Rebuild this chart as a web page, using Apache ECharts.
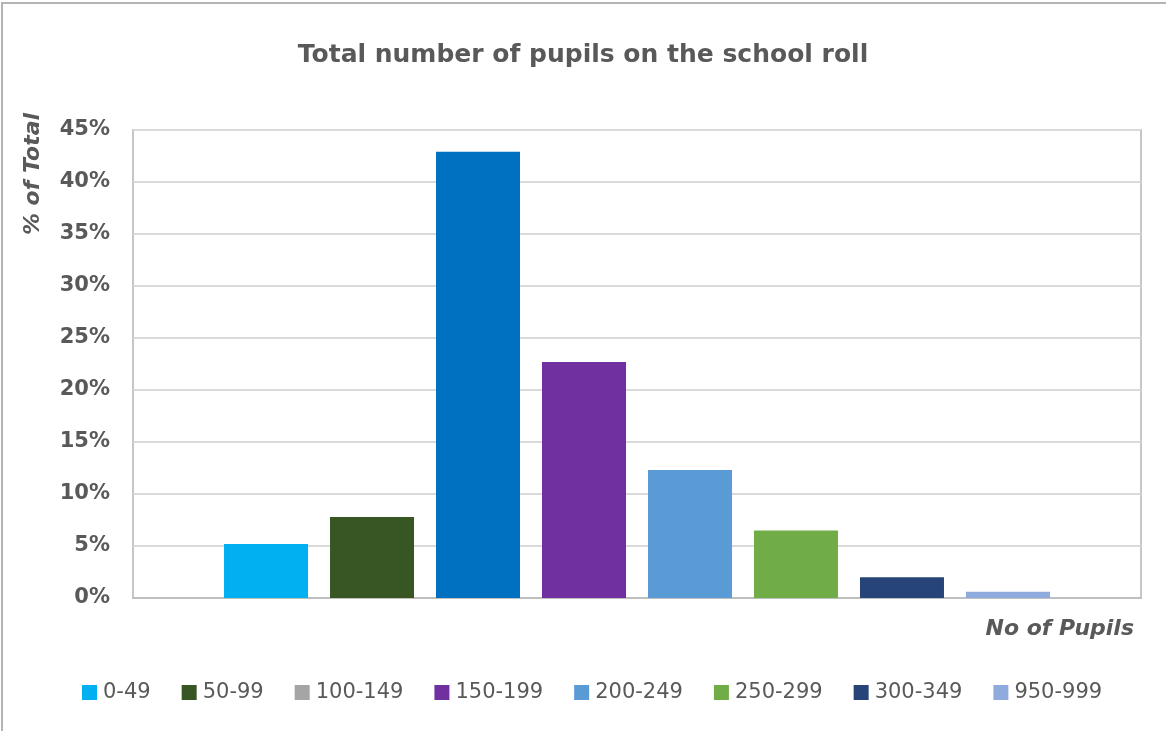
<!DOCTYPE html>
<html>
<head>
<meta charset="utf-8">
<title>Total number of pupils on the school roll</title>
<script src="https://cdn.jsdelivr.net/npm/echarts@6/dist/echarts.min.js"></script>
<style>
  html, body { margin: 0; padding: 0; background: #ffffff; }
  #chart { width: 1166px; height: 731px; }
</style>
</head>
<body>
<div id="chart"></div>
<script>
// School roll size bands and share of schools in each band (% of total)
const rollBands = ['0-49', '50-99', '100-149', '150-199', '200-249', '250-299', '300-349', '950-999'];
const shareOfTotal = [5.2, 7.8, 42.9, 22.7, 12.3, 6.5, 2.0, 0.6];
const yTicks = [0, 5, 10, 15, 20, 25, 30, 35, 40, 45];

// Series colours (legend swatch) and bar fill colours
const legendColors = ['#00B0F0', '#375623', '#A5A5A5', '#7030A0', '#5B9BD5', '#70AD47', '#264478', '#8FAADC'];
const barColors    = ['#00B0F0', '#375623', '#0070C0', '#7030A0', '#5B9BD5', '#70AD47', '#264478', '#8FAADC'];

const textGrey = '#595959';
const chart = echarts.init(document.getElementById('chart'), null, { renderer: 'canvas' });

const series = rollBands.map((band, i) => ({
  name: band,
  type: 'bar',
  data: [{ value: shareOfTotal[i], itemStyle: { color: barColors[i] } }],
  itemStyle: { color: legendColors[i] },
  barCategoryGap: '18.06%',
  barGap: '26.2%',
  emphasis: { disabled: true }
}));

chart.setOption({
  animation: false,
  backgroundColor: '#ffffff',
  title: {
    text: 'Total number of pupils on the school roll',
    left: 'center',
    top: 38,
    textStyle: { fontFamily: 'DejaVu Sans', fontWeight: 'bold', fontSize: 25, color: textGrey }
  },
  legend: {
    data: rollBands,
    left: 82,
    top: 682,
    padding: 0,
    itemWidth: 15,
    itemHeight: 15,
    itemGap: 31,
    icon: 'rect',
    textStyle: { fontFamily: 'DejaVu Sans', fontSize: 21, color: textGrey, padding: [0, 0, 0, 1] }
  },
  grid: {
    left: 133, right: 25, top: 130, bottom: 133,
    show: true, borderColor: '#c6c6c6', borderWidth: 2, containLabel: false
  },
  xAxis: {
    type: 'category',
    data: [''],
    axisLine: { show: true, lineStyle: { color: '#bfbfbf', width: 2 } },
    axisTick: { show: false },
    axisLabel: { show: false },
    splitLine: { show: false }
  },
  yAxis: {
    type: 'value',
    min: yTicks[0],
    max: yTicks[yTicks.length - 1],
    interval: yTicks[1] - yTicks[0],
    axisLine: { show: false },
    axisTick: { show: false },
    axisLabel: {
      formatter: '{value}%',
      margin: 23,
      fontFamily: 'DejaVu Sans', fontWeight: 'bold', fontSize: 21, color: textGrey
    },
    splitLine: { lineStyle: { color: '#d9d9d9', width: 2 } }
  },
  graphic: [
    {
      type: 'rect', silent: true, z: -1,
      shape: { x: 2, y: 3, width: 1200, height: 800 },
      style: { fill: 'none', stroke: '#b4b4b4', lineWidth: 2 }
    },
    {
      type: 'text', silent: true,
      x: 33, y: 174, rotation: Math.PI / 2,
      style: {
        text: '% of Total', align: 'center', verticalAlign: 'middle',
        font: 'italic bold 22px "DejaVu Sans"', fill: textGrey
      }
    },
    {
      type: 'text', silent: true,
      x: 1134, y: 629,
      style: {
        text: 'No of Pupils', align: 'right', verticalAlign: 'middle',
        font: 'italic bold 22px "DejaVu Sans"', fill: textGrey
      }
    }
  ],
  series: series
});
</script>
</body>
</html>
